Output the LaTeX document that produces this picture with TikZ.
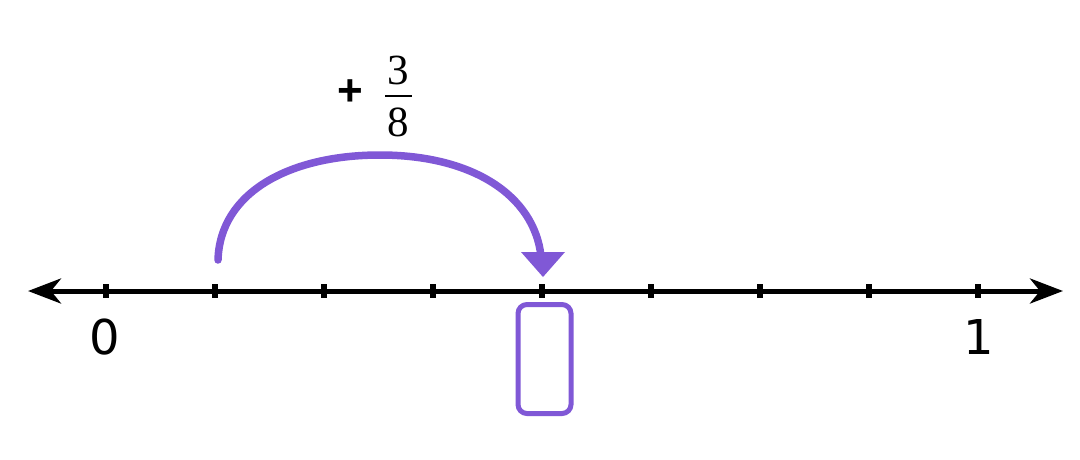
\documentclass[tikz,border=0pt]{standalone}
\usepackage{fontspec}
\setmainfont{Liberation Serif}
\setsansfont{DejaVu Sans}
\newfontfamily\plusfont{Liberation Sans}
\usetikzlibrary{arrows.meta,calc}
\definecolor{jump}{RGB}{128,88,214}
\tikzset{
  axis/.style={line width=5pt, {Stealth[length=33pt,width=25pt,inset=10pt]}-{Stealth[length=33pt,width=25pt,inset=10pt]}},
  tick/.style={line width=6.5pt},
  numlabel/.style={font=\sffamily\fontsize{48}{48}\selectfont, inner sep=0pt},
  fracdigit/.style={font=\fontsize{43}{43}\selectfont, inner sep=0pt},
  answerbox/.style={draw=jump, line width=5pt, rounded corners=9pt, minimum width=53pt, minimum height=109pt, inner sep=0pt},
  jumparc/.style={draw=jump, line width=7.5pt, line cap=round},
}
\begin{document}
\begin{tikzpicture}[x=1pt,y=-1pt]
\useasboundingbox (0,0) rectangle (1080,459);
\coordinate (L) at (28,291);
\coordinate (R) at (1063,291);
\draw[axis] (L) -- (R);
\foreach \i in {0,...,8} {
  \coordinate (t\i) at ({106+109*\i},291);
  \draw[tick] ($(t\i)+(0,-7)$) -- ($(t\i)+(0,7)$);
}
\node[numlabel] (zero) at (105,337) {0};
\node[numlabel] (one) at (979,337) {1};
\node[answerbox] (box) at (544.5,359) {};
\coordinate (s) at (218,260);
\coordinate (e) at (541,256);
\draw[jumparc] (s) .. controls (220,192) and (290,155) .. (380,155) .. controls (472,155) and (534,195) .. (e);
\fill[jump] (521,252) -- (565,252) -- (543,277) -- cycle;
\node[font=\plusfont\bfseries\fontsize{44}{44}\selectfont, inner sep=0pt] (plus) at (350,93) {+};
\node[fracdigit] (num) at (398,70) {3};
\node[fracdigit] (den) at (398,122) {8};
\coordinate (barl) at (385,96);
\coordinate (barr) at (412,96);
\draw[line width=2.5pt] (barl) -- (barr);
\end{tikzpicture}
\end{document}
